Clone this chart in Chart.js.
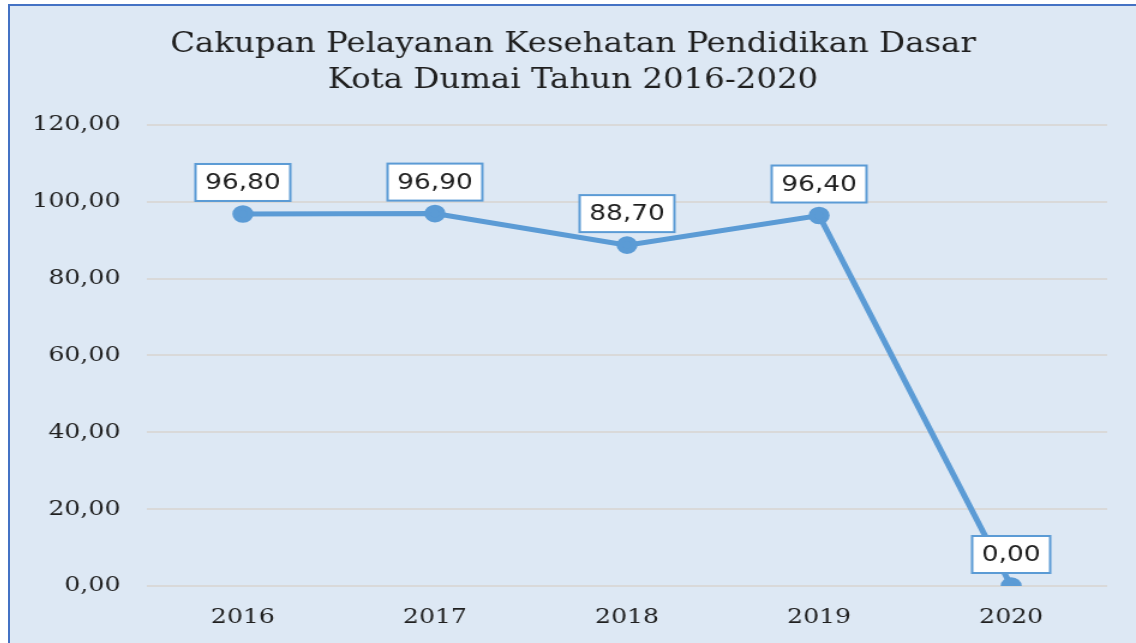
<!DOCTYPE html>
<html>
<head>
<meta charset="utf-8">
<script src="https://cdn.jsdelivr.net/npm/chart.js@4/dist/chart.umd.min.js"></script>
<style>
  html, body { margin: 0; padding: 0; background: #fff; }
  #wrap {
    position: absolute; left: 8px; top: 4px;
    width: 1128px; height: 639px;
    border-top: 2px solid #4472c4; border-left: 2px solid #4472c4;
    background: #dde8f4;
  }
  /* drawn at 938 wide, shown stretched to 1126 */
  canvas { display: block; width: 1126px !important; height: 637px !important; }
</style>
</head>
<body>
<div id="wrap"><canvas id="chart" width="938" height="637"></canvas></div>
<script>
const years = ["2016", "2017", "2018", "2019", "2020"];
const coverage = [96.80, 96.90, 88.70, 96.40, 0.00];
const yTicks = [0, 20, 40, 60, 80, 100, 120];
const titleLines = ["Cakupan Pelayanan Kesehatan Pendidikan Dasar", "Kota Dumai Tahun 2016-2020"];

const blue = "#5b9bd5";
const ink = "#1f1f1f";
const serif = "'DejaVu Serif', 'Liberation Serif', serif";
const sans = "'DejaVu Sans', 'Liberation Sans', sans-serif";

const fmt = v => v.toFixed(2).replace(".", ",");

// boxed value labels above each point
const boxLabels = {
  id: "boxLabels",
  afterDatasetsDraw(chart) {
    const ctx = chart.ctx;
    const meta = chart.getDatasetMeta(0);
    ctx.save();
    ctx.font = "22px " + sans;
    ctx.textAlign = "center";
    ctx.textBaseline = "middle";
    meta.data.forEach((pt, i) => {
      const text = fmt(chart.data.datasets[0].data[i]);
      const w = ctx.measureText(text).width + 16;
      const h = 37;
      const x = pt.x - w / 2;
      const y = pt.y - 13 - h;
      ctx.fillStyle = "#ffffff";
      ctx.fillRect(x, y, w, h);
      ctx.strokeStyle = blue;
      ctx.lineWidth = 2;
      ctx.strokeRect(x, y, w, h);
      ctx.fillStyle = ink;
      ctx.fillText(text, pt.x, y + h / 2 + 1);
    });
    ctx.restore();
  }
};

new Chart(document.getElementById("chart"), {
  type: "line",
  data: {
    labels: years,
    datasets: [{
      data: coverage,
      borderColor: blue,
      backgroundColor: blue,
      borderWidth: 5,
      pointRadius: 6.3,
      pointHoverRadius: 6.3,
      tension: 0
    }]
  },
  options: {
    responsive: false,
    animation: false,
    layout: { padding: 0 },
    plugins: {
      legend: { display: false },
      tooltip: { enabled: false },
      title: {
        display: true,
        text: titleLines,
        color: ink,
        font: { family: serif, size: 27, weight: "normal", lineHeight: 1.33 },
        padding: { top: 21, bottom: 26 }
      }
    },
    scales: {
      x: {
        offset: true,
        grid: { display: false },
        border: { display: false },
        ticks: { color: ink, font: { family: serif, size: 21 }, padding: 11 },
        afterFit(axis) { axis.height = 57; }
      },
      y: {
        min: 0,
        max: 120,
        afterBuildTicks(axis) { axis.ticks = yTicks.map(v => ({ value: v })); },
        grid: { color: "#d9d9d9", lineWidth: 2, drawTicks: false },
        border: { display: false },
        ticks: { color: ink, font: { family: serif, size: 21 }, padding: 22, callback: v => fmt(v) },
        afterFit(axis) { axis.width = 114; }
      },
      // empty right-hand gutter
      gutter: {
        position: "right",
        grid: { display: false },
        border: { display: false },
        ticks: { display: false },
        afterFit(axis) { axis.width = 24; }
      }
    }
  },
  plugins: [boxLabels]
});
</script>
</body>
</html>
